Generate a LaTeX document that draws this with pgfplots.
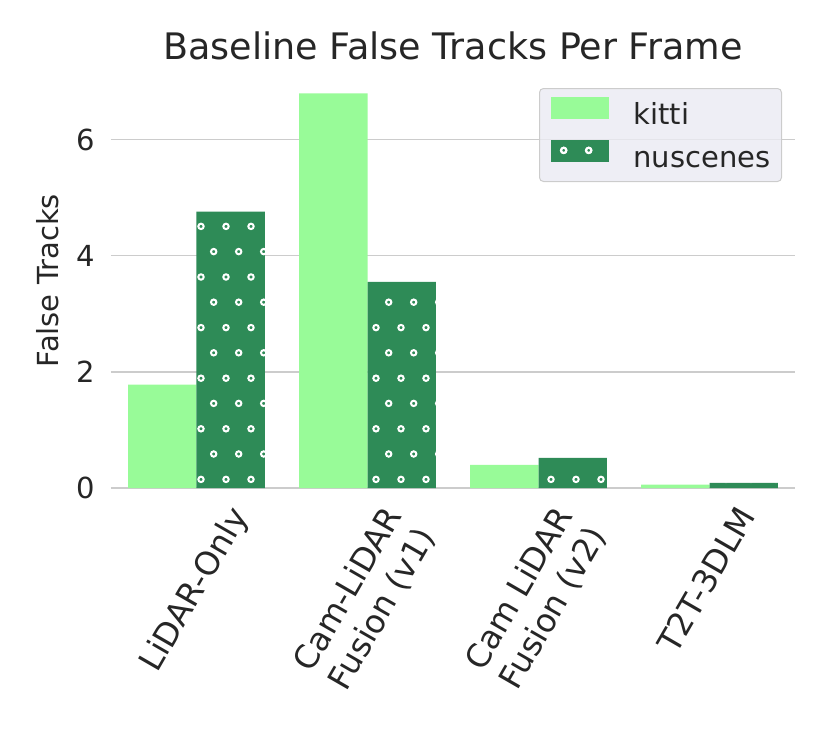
\documentclass[border=0pt]{standalone}
\usepackage{fontspec}
\setmainfont{DejaVu Sans}
\usepackage{pgfplots}
\pgfplotsset{compat=1.18}
\usetikzlibrary{patterns.meta}
\definecolor{kitti}{HTML}{98FB98}
\definecolor{nusc}{HTML}{2E8B57}
\definecolor{txt}{HTML}{262626}
\definecolor{gridc}{HTML}{CCCCCC}
\definecolor{legbg}{HTML}{EAEAF2}
% matplotlib-like 'o' hatch: white rings, rows offset by half a step
\tikzdeclarepattern{
  name=ohatch, type=uncolored,
  bounding box={(-6pt,-10pt) and (19pt,40.6pt)},
  tile size={(25pt,50.6pt)},
  code={
    \draw[line width=2pt] (13.7pt,-2.6pt) circle (2.7pt);
    \draw[line width=2pt] (1pt,22.6pt) circle (2.7pt);
  }
}
\newcommand{\lab}[1]{\rotatebox{60}{\fontsize{32.5}{39}\selectfont\begin{tabular}{@{}c@{}}#1\end{tabular}}}
\begin{document}
\begin{tikzpicture}
\useasboundingbox (-111pt,-267pt) rectangle (719pt,488pt);
\begin{axis}[
    scale only axis, width=684pt, height=415pt,
    font=\fontsize{29}{35}\selectfont, text=txt,
    tick label style={font=\fontsize{29}{35}\selectfont},
    /pgf/number format/assume math mode=true,
    xmin=-0.5, xmax=3.5, ymin=0, ymax=7.15,
    axis line style={draw=none},
    major tick length=0pt,
    xtick={0,1,2,3},
    xticklabels={\lab{LiDAR-Only},\lab{Cam-LiDAR\\Fusion (v1)},\lab{Cam LiDAR\\Fusion (v2)},\lab{T2T-3DLM}},
    xticklabel style={anchor=north, inner sep=0pt, yshift=-14pt},
    ytick={0,2,4,6},
    yticklabel style={anchor=east, inner sep=0pt, xshift=-16pt},
    ymajorgrids, grid style={gridc, line width=1.3pt},
    ylabel={False Tracks},
    ylabel style={at={(axis description cs:0,0.5)}, anchor=south, inner sep=0pt, xshift=0pt, yshift=52pt},
    title={\fontsize{36.5}{42}\selectfont Baseline False Tracks Per Frame},
    title style={at={(axis description cs:0.5,1)}, anchor=base, inner sep=0pt, yshift=8pt},
    legend style={at={(axis description cs:1,1)}, anchor=north east, xshift=-13pt, yshift=-15pt,
        fill=legbg, fill opacity=0.8, text opacity=1, draw=gridc, line width=1pt, rounded corners=4pt,
        inner xsep=11pt, inner ysep=8pt, row sep=10pt, column sep=25pt,
        nodes={inner sep=0pt, text height=21pt, text depth=6pt}},
    legend cell align=left,
]
\addplot[ybar, bar width=0.4, bar shift=-0.2, fill=kitti, draw=none,
    legend image code/.code={\fill[kitti, sharp corners, fill opacity=1] (0pt,-2pt) rectangle (58pt,20pt);}]
    coordinates {(0,1.78) (1,6.80) (2,0.40) (3,0.06)};
\addlegendentry{kitti}
\addplot[ybar, bar width=0.4, bar shift=0.2, fill=nusc, draw=none,
    postaction={pattern=ohatch, pattern color=white},
    legend image code/.code={\fill[nusc, sharp corners, fill opacity=1, postaction={pattern=ohatch, pattern color=white, fill opacity=1}] (0pt,-2pt) rectangle (58pt,20pt);}]
    coordinates {(0,4.76) (1,3.55) (2,0.52) (3,0.09)};
\addlegendentry{nuscenes}
\end{axis}
\end{tikzpicture}
\end{document}
